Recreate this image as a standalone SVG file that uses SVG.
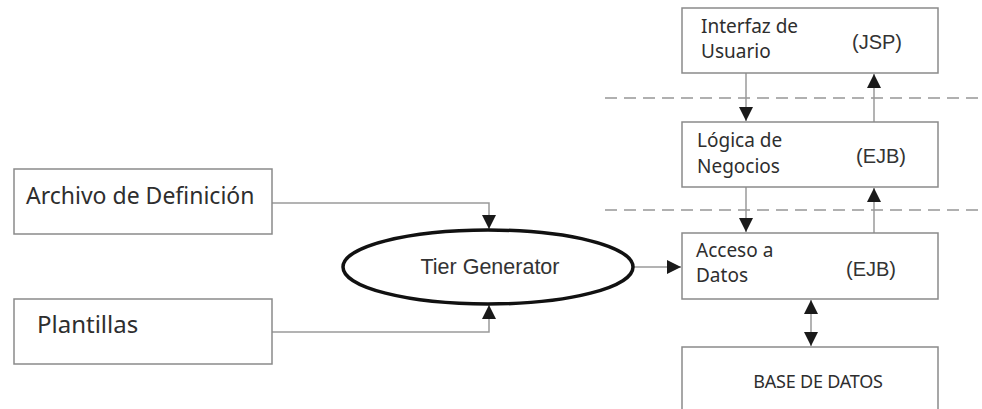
<svg xmlns="http://www.w3.org/2000/svg" width="982" height="409" viewBox="0 0 982 409">
  <style>
    .box { fill: #ffffff; stroke: #8a8a8a; stroke-width: 1.5; }
    .lbl { font-family: "Noto Sans", "Open Sans", sans-serif; fill: #2e2e2e; }
    .tech { font-family: "Liberation Sans", Arial, sans-serif; fill: #333333; }
    .wire { fill: none; stroke: #9a9a9a; stroke-width: 1.5; }
    .tier { fill: none; stroke: #b0b0b0; stroke-width: 2; stroke-dasharray: 12 7; }
  </style>
  <defs>
    <marker id="head" viewBox="0 0 10 10" refX="10" refY="5" markerWidth="14" markerHeight="14" markerUnits="userSpaceOnUse" orient="auto-start-reverse">
      <path d="M0,0 L10,5 L0,10 z" fill="#1a1a1a"/>
    </marker>
  </defs>
  <rect width="982" height="409" fill="#ffffff"/>

  <!-- tier separators -->
  <g id="separators">
    <line class="tier" x1="605" y1="98" x2="982" y2="98"/>
    <line class="tier" x1="605" y1="210" x2="982" y2="210"/>
  </g>

  <!-- connectors -->
  <g id="connectors">
    <polyline class="wire" points="272,203 489,203 489,229" marker-end="url(#head)"/>
    <polyline class="wire" points="272,332 489,332 489,305" marker-end="url(#head)"/>
    <line class="wire" x1="633" y1="267" x2="681" y2="267" marker-end="url(#head)"/>
    <line class="wire" x1="746" y1="73" x2="746" y2="121" marker-end="url(#head)"/>
    <line class="wire" x1="874" y1="122" x2="874" y2="74" marker-end="url(#head)"/>
    <line class="wire" x1="746" y1="187" x2="746" y2="232" marker-end="url(#head)"/>
    <line class="wire" x1="874" y1="233" x2="874" y2="188" marker-end="url(#head)"/>
    <line class="wire" x1="811" y1="300" x2="811" y2="346" marker-start="url(#head)" marker-end="url(#head)"/>
  </g>

  <g id="archivo">
    <rect class="box" x="14" y="169" width="258" height="65"/>
    <text class="lbl" x="26" y="204" font-size="23">Archivo de Definición</text>
  </g>

  <g id="plantillas">
    <rect class="box" x="14" y="299" width="258" height="65"/>
    <text class="lbl" x="37" y="333" font-size="24">Plantillas</text>
  </g>

  <g id="tier-generator">
    <ellipse cx="488" cy="267" rx="145" ry="37" fill="#ffffff" stroke="#111111" stroke-width="3.5"/>
    <text class="tech" x="490" y="274" font-size="21.5" text-anchor="middle">Tier Generator</text>
  </g>

  <g id="interfaz">
    <rect class="box" x="682" y="8" width="256" height="65"/>
    <text class="lbl" x="701" y="33" font-size="19">Interfaz de</text>
    <text class="lbl" x="701" y="58" font-size="19">Usuario</text>
    <text class="tech" x="852" y="49" font-size="20">(JSP)</text>
  </g>

  <g id="logica">
    <rect class="box" x="682" y="122" width="256" height="65"/>
    <text class="lbl" x="697" y="147" font-size="19">Lógica de</text>
    <text class="lbl" x="697" y="173" font-size="19">Negocios</text>
    <text class="tech" x="856" y="163" font-size="20">(EJB)</text>
  </g>

  <g id="acceso">
    <rect class="box" x="682" y="233" width="256" height="66"/>
    <text class="lbl" x="696" y="257" font-size="19">Acceso a</text>
    <text class="lbl" x="696" y="282" font-size="19">Datos</text>
    <text class="tech" x="846" y="276" font-size="20">(EJB)</text>
  </g>

  <g id="base-datos">
    <rect class="box" x="682" y="347" width="256" height="80"/>
    <text class="lbl" x="818" y="388" font-size="18" text-anchor="middle" letter-spacing="-0.2">BASE DE DATOS</text>
  </g>
</svg>
